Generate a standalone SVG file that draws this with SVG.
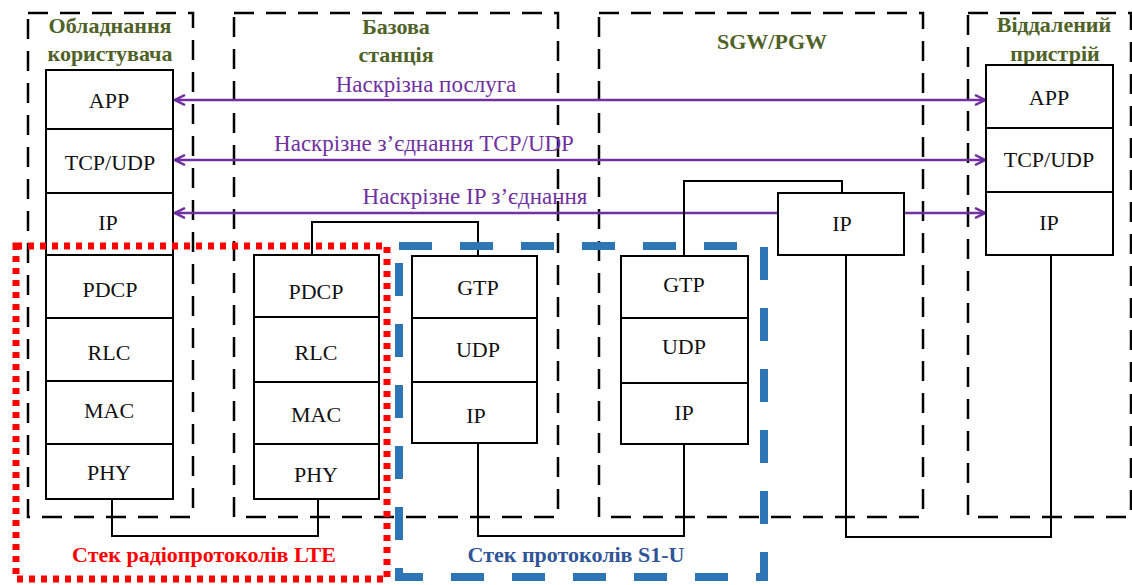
<svg xmlns="http://www.w3.org/2000/svg" width="1132" height="585" viewBox="0 0 1132 585" font-family="Liberation Serif, Times New Roman, serif">
  <style>
    .zone { fill: none; stroke: #000; stroke-width: 2.5; stroke-dasharray: 20 12; }
    .layer { fill: #fff; stroke: #000; stroke-width: 2; }
    .lbl { font-family: Liberation Serif, serif; font-size: 22px; fill: #111; text-anchor: middle; }
    .title { font-family: Liberation Serif, serif; font-size: 22px; font-weight: bold; fill: #4F6228; text-anchor: middle; }
    .flow { stroke: #7030A0; stroke-width: 2.5; fill: none; marker-start: url(#headL); marker-end: url(#headR); }
    .flowtxt { font-family: Liberation Serif, serif; font-size: 23px; fill: #7030A0; text-anchor: middle; }
    .wire { fill: none; stroke: #000; stroke-width: 2; }
    .radio { fill: none; stroke: #FF0000; stroke-width: 7; stroke-dasharray: 6 6; }
    .s1u { fill: none; stroke: #2E75B6; stroke-width: 8; stroke-dasharray: 33 28; }
    .grp { font-family: Liberation Serif, serif; font-size: 22px; font-weight: bold; text-anchor: middle; }
  </style>
  <defs>
    <marker id="headR" viewBox="0 0 12 12" refX="11" refY="6" markerWidth="12" markerHeight="12" markerUnits="userSpaceOnUse" orient="auto">
      <path d="M1,1 L11,6 L1,11" fill="none" stroke="#7030A0" stroke-width="2.5"/>
    </marker>
    <marker id="headL" viewBox="0 0 12 12" refX="1" refY="6" markerWidth="12" markerHeight="12" markerUnits="userSpaceOnUse" orient="auto">
      <path d="M11,1 L1,6 L11,11" fill="none" stroke="#7030A0" stroke-width="2.5"/>
    </marker>
  </defs>

  <rect width="1132" height="585" fill="#fff"/>

  <!-- network element zones -->
  <g id="zone-ue">
    <rect class="zone" x="28" y="13" width="165" height="504"/>
    <text class="title" x="110" y="33">Обладнання</text>
    <text class="title" x="110" y="61">користувача</text>
  </g>
  <g id="zone-enb">
    <rect class="zone" x="234" y="13" width="324" height="504"/>
    <text class="title" x="396" y="34">Базова</text>
    <text class="title" x="396" y="62">станція</text>
  </g>
  <g id="zone-gw">
    <rect class="zone" x="599" y="13" width="324" height="504"/>
    <text class="title" x="772" y="49">SGW/PGW</text>
  </g>
  <g id="zone-remote">
    <rect class="zone" x="968" y="13" width="163" height="504"/>
    <text class="title" x="1054" y="32">Віддалений</text>
    <text class="title" x="1055" y="61">пристрій</text>
  </g>

  <!-- end-to-end flows -->
  <g id="flows">
    <line class="flow" x1="175" y1="100" x2="985" y2="100"/>
    <text class="flowtxt" x="426" y="92">Наскрізна послуга</text>
    <line class="flow" x1="175" y1="160" x2="985" y2="160"/>
    <text class="flowtxt" x="424" y="151">Наскрізне з’єднання TCP/UDP</text>
    <line class="flow" x1="175" y1="213" x2="985" y2="213"/>
    <text class="flowtxt" x="475" y="204">Наскрізне IP з’єднання</text>
  </g>

  <!-- physical / logical links between stacks -->
  <g id="connectors">
    <polyline class="wire" points="112,499 112,536 318,536 318,499"/>
    <polyline class="wire" points="312,255 312,222 478,222 478,256"/>
    <polyline class="wire" points="478,443 478,536 684,536 684,444"/>
    <polyline class="wire" points="684,256 684,181 842,181 842,193"/>
    <polyline class="wire" points="846,255 846,537 1051,537 1051,255"/>
  </g>

  <!-- UE stack -->
  <g id="stack-ue">
    <rect class="layer" x="46" y="70" width="127" height="59"/>
    <rect class="layer" x="46" y="129" width="127" height="64"/>
    <rect class="layer" x="46" y="193" width="127" height="62"/>
    <rect class="layer" x="46" y="255" width="127" height="63"/>
    <rect class="layer" x="46" y="318" width="127" height="63"/>
    <rect class="layer" x="46" y="381" width="127" height="63"/>
    <rect class="layer" x="46" y="444" width="127" height="55"/>
    <text class="lbl" x="109" y="108">APP</text>
    <text class="lbl" x="110" y="170">TCP/UDP</text>
    <text class="lbl" x="108" y="230">IP</text>
    <text class="lbl" x="110" y="297">PDCP</text>
    <text class="lbl" x="109" y="360">RLC</text>
    <text class="lbl" x="109" y="418">MAC</text>
    <text class="lbl" x="109" y="480">PHY</text>
  </g>

  <!-- eNB radio stack -->
  <g id="stack-enb-radio">
    <rect class="layer" x="254" y="255" width="125" height="62"/>
    <rect class="layer" x="254" y="317" width="125" height="65"/>
    <rect class="layer" x="254" y="382" width="125" height="62"/>
    <rect class="layer" x="254" y="444" width="125" height="55"/>
    <text class="lbl" x="316" y="299">PDCP</text>
    <text class="lbl" x="316" y="360">RLC</text>
    <text class="lbl" x="316" y="422">MAC</text>
    <text class="lbl" x="316" y="482">PHY</text>
  </g>

  <!-- eNB S1-U stack -->
  <g id="stack-enb-s1">
    <rect class="layer" x="412" y="256" width="125" height="62"/>
    <rect class="layer" x="412" y="318" width="125" height="64"/>
    <rect class="layer" x="412" y="382" width="125" height="61"/>
    <text class="lbl" x="478" y="295">GTP</text>
    <text class="lbl" x="478" y="357">UDP</text>
    <text class="lbl" x="476" y="423">IP</text>
  </g>

  <!-- gateway S1-U stack -->
  <g id="stack-gw-s1">
    <rect class="layer" x="621" y="256" width="127" height="62"/>
    <rect class="layer" x="621" y="318" width="127" height="65"/>
    <rect class="layer" x="621" y="383" width="127" height="61"/>
    <text class="lbl" x="684" y="292">GTP</text>
    <text class="lbl" x="684" y="354">UDP</text>
    <text class="lbl" x="684" y="420">IP</text>
  </g>

  <!-- gateway IP layer -->
  <g id="stack-gw-ip">
    <rect class="layer" x="778" y="193" width="126" height="62"/>
    <text class="lbl" x="842" y="231">IP</text>
  </g>

  <!-- remote host stack -->
  <g id="stack-remote">
    <rect class="layer" x="986" y="65" width="127" height="63"/>
    <rect class="layer" x="986" y="128" width="127" height="64"/>
    <rect class="layer" x="986" y="192" width="127" height="63"/>
    <text class="lbl" x="1049" y="105">APP</text>
    <text class="lbl" x="1049" y="167">TCP/UDP</text>
    <text class="lbl" x="1049" y="230">IP</text>
  </g>

  <!-- protocol stack groupings -->
  <g id="group-lte-radio">
    <rect class="radio" x="16" y="246" width="371" height="333"/>
    <text class="grp" x="204" y="562" fill="#FF0000">Стек радіопротоколів LTE</text>
  </g>
  <g id="group-s1u">
    <rect class="s1u" x="399" y="246" width="365" height="331"/>
    <text class="grp" x="576" y="562" fill="#2F5597">Стек протоколів S1-U</text>
  </g>
</svg>
